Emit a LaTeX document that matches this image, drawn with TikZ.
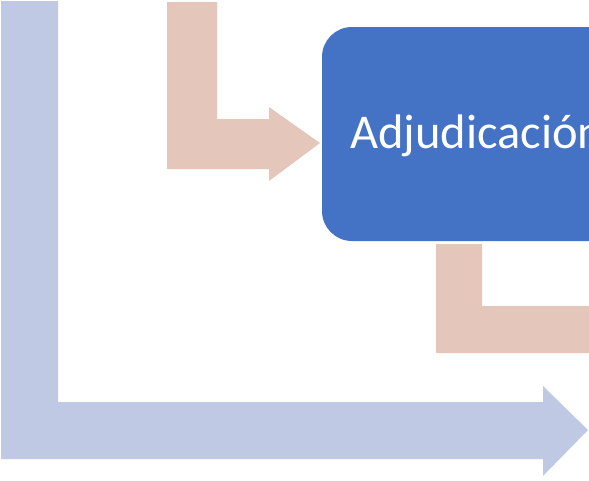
\documentclass[tikz,border=0pt]{standalone}
\usepackage{fontspec}
\setmainfont{Carlito}
\definecolor{bigarrow}{HTML}{BFC9E4}
\definecolor{salmon}{HTML}{E5C6BB}
\definecolor{boxblue}{HTML}{4472C4}
\begin{document}
\begin{tikzpicture}[x=1pt,y=-1pt,
  bigL/.style={fill=bigarrow,draw=none},
  smallL/.style={fill=salmon,draw=none},
  stagebox/.style={fill=boxblue,draw=none,rounded corners=30pt}]
\useasboundingbox (0,0) rectangle (589,480);
\clip (0,0) rectangle (589,480);
% big L-shaped arrow
\fill[bigL] (1,1) -- (58,1) -- (58,402) -- (543,402) -- (543,386) -- (588,430)
  -- (543,476) -- (543,459) -- (1,459) -- cycle;
% top bent arrow
\fill[smallL] (167,2) -- (217,2) -- (217,119) -- (269,119) -- (269,107) -- (320,143)
  -- (269,181) -- (269,169) -- (167,169) -- cycle;
% stage box
\fill[stagebox] (322,27) rectangle (680,241);
\node[anchor=base west,text=white,font=\fontsize{48.5}{58}\selectfont,inner sep=0pt] (adj) at (350,148) {Adjudicación};
% bottom bent arrow
\fill[smallL] (436,244) -- (482,244) -- (482,306) -- (600,306) -- (600,353) -- (436,353) -- cycle;
\end{tikzpicture}
\end{document}
